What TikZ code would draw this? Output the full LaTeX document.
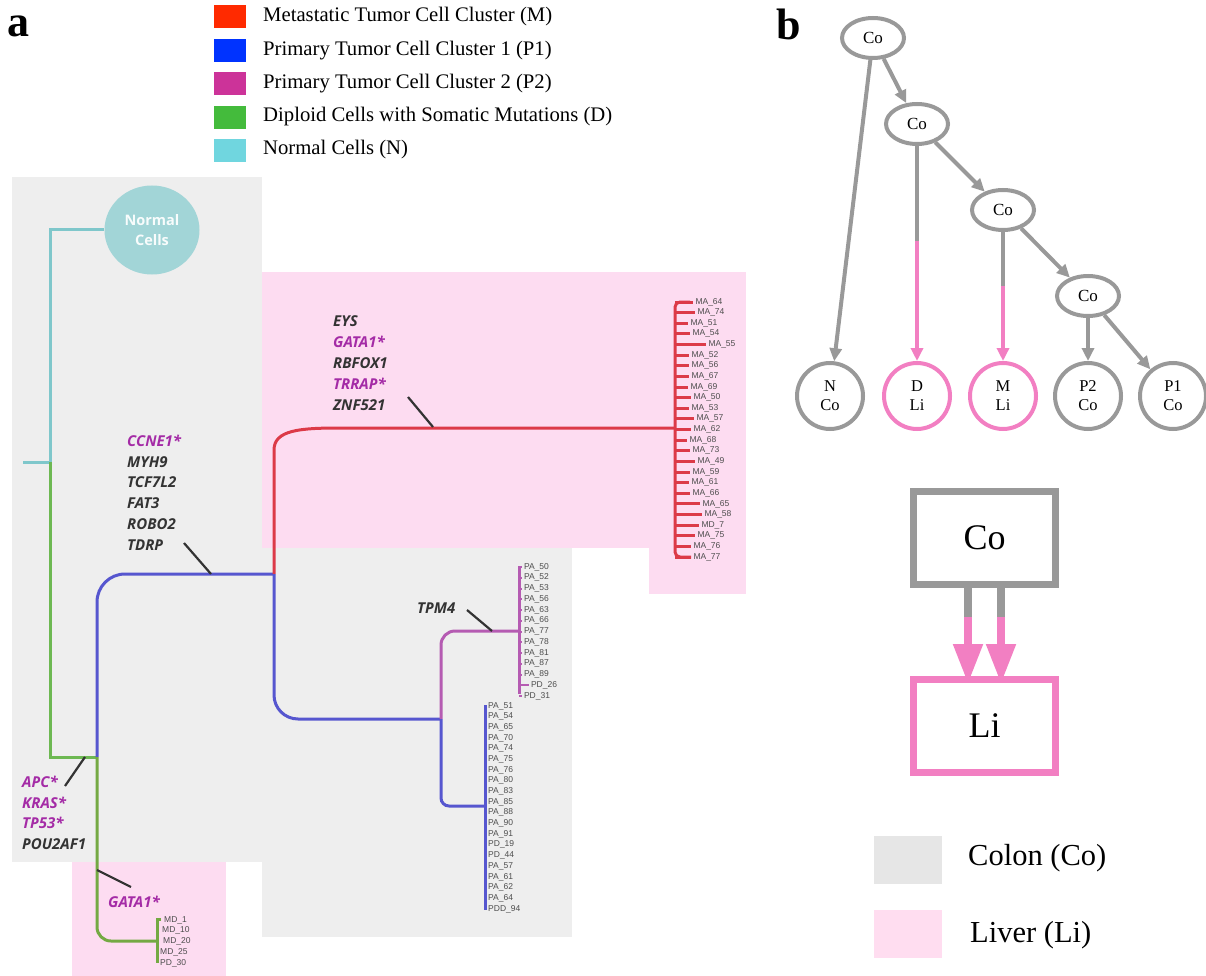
\documentclass[tikz,border=0pt]{standalone}
\usepackage{fontspec}
\setmainfont{Liberation Serif}
\newfontfamily\genefont{Open Sans}
\newfontfamily\leaffont{Liberation Sans}
\usetikzlibrary{shapes.geometric,arrows.meta,positioning}

\definecolor{legRed}{HTML}{FF2A00}
\definecolor{legBlue}{HTML}{0033FF}
\definecolor{legMag}{HTML}{CC3399}
\definecolor{legGreen}{HTML}{44BB3C}
\definecolor{legCyan}{HTML}{70D6DF}
\definecolor{bgGrey}{HTML}{EEEEEE}
\definecolor{bgPink}{HTML}{FDDCF1}
\definecolor{brCyan}{HTML}{7FC7CB}
\definecolor{brGreen}{HTML}{6DB852}
\definecolor{brGreenB}{HTML}{74A943}
\definecolor{brBlue}{HTML}{5656CF}
\definecolor{brRed}{HTML}{DC3A48}
\definecolor{brMag}{HTML}{B55BB2}
\definecolor{normalFill}{HTML}{A2D5D7}
\definecolor{geneGrey}{HTML}{333333}
\definecolor{geneMag}{HTML}{A42BA6}
\definecolor{leafGrey}{HTML}{4D4D4D}
\definecolor{bGrey}{HTML}{999999}
\definecolor{bPink}{HTML}{F27FC2}
\definecolor{keyGrey}{HTML}{E6E6E6}
\definecolor{keyPink}{HTML}{FFDDF0}

\begin{document}
\begin{tikzpicture}[x=1pt,y=-1pt,
    legbox/.style={minimum width=32pt,minimum height=23pt,inner sep=0pt,anchor=north west},
    legtext/.style={anchor=west,inner sep=0pt,font=\fontsize{20.7}{22}\selectfont},
    gene/.style={anchor=west,inner sep=0pt,text=geneGrey,font=\genefont\bfseries\itshape\fontsize{15}{18}\selectfont},
    leaf/.style={inner sep=1pt,text=leafGrey,font=\leaffont\fontsize{8.5}{9}\selectfont},
    pointer/.style={draw=geneGrey,line width=2.2pt},
    branch/.style={line width=3pt},
    cline/.style={branch,draw=brCyan},
    gline/.style={branch,draw=brGreen},
    dline/.style={branch,draw=brGreenB},
    pline/.style={branch,draw=brBlue},
    mline/.style={branch,draw=brRed},
    qline/.style={branch,draw=brMag},
    tnode/.style={ellipse,draw=bGrey,line width=4pt,minimum width=62pt,minimum height=40pt,inner sep=0pt,font=\fontsize{17}{19}\selectfont},
    lnode/.style={circle,draw=#1,line width=4pt,minimum size=66pt,inner sep=0pt,align=center,font=\fontsize{16.5}{19}\selectfont},
    tedge/.style={draw=#1,line width=4pt,-{Triangle[length=13pt,width=12pt]}},
    tpart/.style={draw=#1,line width=4pt},
    sbox/.style={draw=#1,line width=7pt,minimum width=142pt,minimum height=93pt,inner sep=0pt,font=\fontsize{36}{40}\selectfont},
    sedge/.style={draw=bPink,line width=8pt,-{Triangle[length=40pt,width=28pt]}},
    keytext/.style={anchor=west,inner sep=0pt,font=\fontsize{30.5}{34}\selectfont}]
  \useasboundingbox (0,0) rectangle (1206,976);

  % panel letters
  \node[font=\bfseries\fontsize{44}{44}\selectfont] (lblA) at (19,26) {a};
  \node[font=\bfseries\fontsize{44}{44}\selectfont] (lblB) at (789,24) {b};

  % legend
  \foreach \c/\t [count=\i] in {legRed/Metastatic Tumor Cell Cluster (M),
      legBlue/Primary Tumor Cell Cluster 1 (P1),
      legMag/Primary Tumor Cell Cluster 2 (P2),
      legGreen/Diploid Cells with Somatic Mutations (D),
      legCyan/Normal Cells (N)} {
    \node[legbox,fill=\c] (key\i) at (214,{5+(\i-1)*33.5}) {};
    \node[legtext] (keyT\i) at (263,{17+(\i-1)*33.2}) {\t};
  }

  % tissue regions
  \fill[bgGrey] (12,177) rectangle (262,862);
  \fill[bgGrey] (262,548) rectangle (572,937);
  \fill[bgPink] (262,272) rectangle (746,548);
  \fill[bgPink] (649,548) rectangle (746,594);
  \fill[bgPink] (72,862) rectangle (226,976);

  % tree
  \node[ellipse,fill=normalFill,minimum width=95pt,minimum height=89pt,inner sep=0pt,
        align=center,text=white!92!normalFill,
        font=\genefont\bfseries\fontsize{14.5}{20}\selectfont] (normal) at (152,230) {Normal\\Cells};
  \coordinate (root) at (50,462);
  \coordinate (nd) at (97,757);
  \coordinate (np) at (274,574);
  \coordinate (nb) at (441,719);

  \draw[cline] (normal.west) -| (root);
  \draw[cline] (23,462) -- (root);
  \draw[gline] (root) |- (nd);
  \draw[pline,rounded corners=28pt] (nd) |- (np);
  \draw[dline,rounded corners=14pt] (nd) |- (157,941);
  \draw[mline] (np) -- (274,450) .. controls (274,430) and (300,428) .. (340,428) -- (675,428);
  \draw[pline,rounded corners=24pt] (np) |- (nb);
  \draw[qline,rounded corners=14pt] (nb) |- (519,631);
  \draw[pline,rounded corners=8pt] (nb) |- (485,806);

  % metastatic leaves
  \draw[mline,rounded corners=5pt] (690,302) -| (675,557) -- (691,557);
  \foreach \lab/\len [count=\i] in {MA\_64/18,MA\_74/20,MA\_51/13,MA\_54/15,MA\_55/31,
      MA\_52/14,MA\_56/14,MA\_67/14,MA\_69/13,MA\_50/16,MA\_53/14,MA\_57/19,MA\_62/16,
      MA\_68/12,MA\_73/15,MA\_49/20,MA\_59/15,MA\_61/14,MA\_66/15,MA\_65/25,MA\_58/27,
      MD\_7/24,MA\_75/20,MA\_76/16,MA\_77/16} {
    \draw[mline] (675,{302+(\i-1)*10.625}) -- ++(\len,0) node[leaf,right] (m\i) {\lab};
  }

  % primary 2 leaves
  \draw[qline] (519,566) -- (519,694);
  \foreach \lab/\len [count=\i] in {PA\_50/3,PA\_52/3,PA\_53/3,PA\_56/3,PA\_63/3,PA\_66/3,
      PA\_77/3,PA\_78/3,PA\_81/3,PA\_87/3,PA\_89/3,PD\_26/10,PD\_31/3} {
    \draw[qline,line width=2pt] (519,{567+(\i-1)*10.75}) -- ++(\len,0) node[leaf,right] (q\i) {\lab};
  }

  % primary 1 leaves
  \draw[pline] (485,705) -- (485,910);
  \foreach \lab [count=\i] in {PA\_51,PA\_54,PA\_65,PA\_70,PA\_74,PA\_75,PA\_76,PA\_80,
      PA\_83,PA\_85,PA\_88,PA\_90,PA\_91,PD\_19,PD\_44,PA\_57,PA\_61,PA\_62,PA\_64,PDD\_94} {
    \node[leaf,anchor=west] (p\i) at (487,{706+(\i-1)*10.68}) {\lab};
  }

  % diploid leaves
  \draw[dline] (161,919) -- (157,919) -- (157,963);
  \foreach \lab/\dx [count=\i] in {MD\_1/6,MD\_10/4,MD\_20/5,MD\_25/2,PD\_30/2} {
    \node[leaf,anchor=west] (d\i) at ({157+\dx},{920+(\i-1)*10.75}) {\lab};
  }

  % mutation labels
  \foreach \g/\c [count=\i] in {CCNE1*/geneMag,MYH9/geneGrey,TCF7L2/geneGrey,
      FAT3/geneGrey,ROBO2/geneGrey,TDRP/geneGrey} {
    \node[gene,text=\c] (gP\i) at (127,{441+(\i-1)*20.8}) {\g};
  }
  \foreach \g/\c [count=\i] in {EYS/geneGrey,GATA1*/geneMag,RBFOX1/geneGrey,
      TRRAP*/geneMag,ZNF521/geneGrey} {
    \node[gene,text=\c] (gM\i) at (333,{321+(\i-1)*21}) {\g};
  }
  \foreach \g/\c [count=\i] in {APC*/geneMag,KRAS*/geneMag,TP53*/geneMag,POU2AF1/geneGrey} {
    \node[gene,text=\c] (gD\i) at (22,{782+(\i-1)*20.6}) {\g};
  }
  \node[gene] (gQ) at (417,608) {TPM4};
  \node[gene,text=geneMag] (gL) at (108,902) {GATA1*};

  \draw[pointer] (184,543) -- (211,574);
  \draw[pointer] (408,397) -- (433,427);
  \draw[pointer] (467,610) -- (492,631);
  \draw[pointer] (65,786) -- (85,757);
  \draw[pointer] (97,870) -- (131,887);

  % panel b: migration tree
  \node[tnode] (co1) at (873,38) {Co};
  \node[tnode] (co2) at (917,124) {Co};
  \node[tnode] (co3) at (1003,210) {Co};
  \node[tnode] (co4) at (1088,296) {Co};
  \node[lnode=bGrey] (nN) at (830,396) {N\\Co};
  \node[lnode=bPink] (nD) at (917,396) {D\\Li};
  \node[lnode=bPink] (nM) at (1003,396) {M\\Li};
  \node[lnode=bGrey] (nP2) at (1088,396) {P2\\Co};
  \node[lnode=bGrey] (nP1) at (1173,396) {P1\\Co};
  \coordinate (dSplit) at (917,241);
  \coordinate (mSplit) at (1003,286);

  \path (co1) edge[tedge=bGrey] (nN)
        (co1) edge[tedge=bGrey] (co2)
        (co2) edge[tpart=bGrey] (dSplit)
        (dSplit) edge[tedge=bPink] (nD)
        (co2) edge[tedge=bGrey] (co3)
        (co3) edge[tpart=bGrey] (mSplit)
        (mSplit) edge[tedge=bPink] (nM)
        (co3) edge[tedge=bGrey] (co4)
        (co4) edge[tedge=bGrey] (nP2)
        (co4) edge[tedge=bGrey] (nP1);

  % panel b: site graph
  \node[sbox=bGrey] (siteCo) at (984.5,537.5) {Co};
  \node[sbox=bPink] (siteLi) at (984.5,726) {Li};
  \coordinate (s1) at (968,617);
  \coordinate (s2) at (1001,617);
  \draw[draw=bGrey,line width=8pt] (siteCo.south -| s1) -- (s1);
  \draw[draw=bGrey,line width=8pt] (siteCo.south -| s2) -- (s2);
  \draw[sedge] (s1) -- ([yshift=-8pt]siteLi.north -| s1);
  \draw[sedge] (s2) -- ([yshift=-8pt]siteLi.north -| s2);

  % panel b: key
  \node[fill=keyGrey,minimum width=68pt,minimum height=48pt,inner sep=0pt] (keyCo) at (908,860) {};
  \node[fill=keyPink,minimum width=68pt,minimum height=48pt,inner sep=0pt] (keyLi) at (908,934) {};
  \node[keytext] (keyCoT) at (968,858) {Colon (Co)};
  \node[keytext] (keyLiT) at (970,935) {Liver (Li)};
\end{tikzpicture}
\end{document}
